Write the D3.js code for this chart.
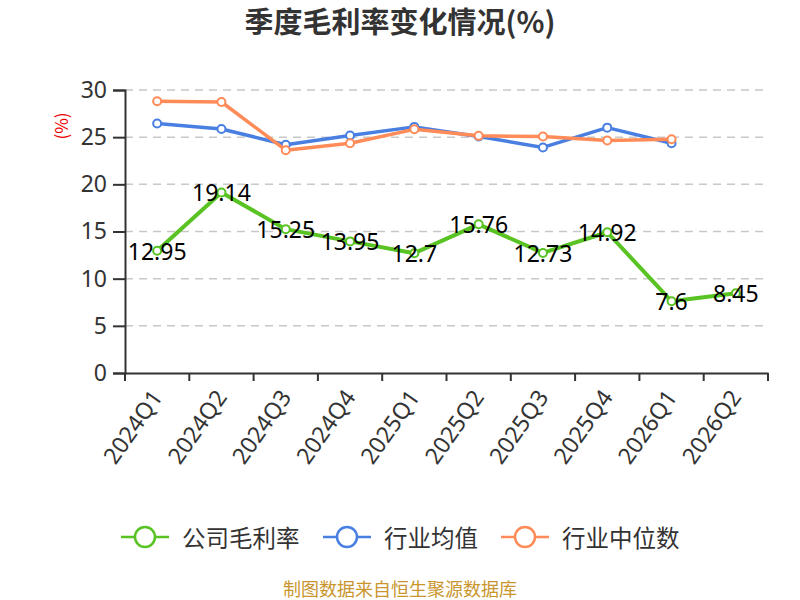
<!DOCTYPE html>
<html>
<head>
<meta charset="utf-8">
<script src="https://cdn.jsdelivr.net/npm/d3@7"></script>
<style>
  body { margin: 0; background: #fff; }
  svg { font-family: "Noto Sans CJK SC", "Noto Sans", sans-serif; }
</style>
</head>
<body>
<div id="chart"></div>
<script>
// quarters on the x axis
const quarters = ['2024Q1', '2024Q2', '2024Q3', '2024Q4', '2025Q1', '2025Q2', '2025Q3', '2025Q4', '2026Q1', '2026Q2'];
// company gross margin (%)
const companyMargin = [12.95, 19.14, 15.25, 13.95, 12.7, 15.76, 12.73, 14.92, 7.6, 8.45];
// industry average, no value for the last quarter
const industryAvg = [26.45, 25.87, 24.2, 25.18, 26.09, 25.07, 23.91, 26.01, 24.35];
// industry median
const industryMedian = [28.8, 28.73, 23.62, 24.35, 25.83, 25.14, 25.07, 24.64, 24.78];
const yTicks = [0, 5, 10, 15, 20, 25, 30];

const seriesNames = ['公司毛利率', '行业均值', '行业中位数'];
const colors = ['#58c322', '#4a7fe2', '#ff8b58'];

const width = 800, height = 600;
const margin = { left: 125, right: 32, top: 90, bottom: 227 };

const svg = d3.select('#chart').append('svg')
    .attr('width', width)
    .attr('height', height);

const x = d3.scaleBand()
    .domain(quarters)
    .range([margin.left, width - margin.right]);

const y = d3.scaleLinear()
    .domain([0, 30])
    .range([height - margin.bottom, margin.top]);

// title
svg.append('text')
    .attr('x', 400)
    .attr('y', 33)
    .attr('text-anchor', 'middle')
    .attr('font-size', 29)
    .attr('font-weight', 'bold')
    .attr('fill', '#333')
    .text('季度毛利率变化情况(%)');

// dashed grid
svg.append('g')
    .selectAll('line')
    .data(yTicks.filter(d => d > 0))
    .enter().append('line')
    .attr('x1', margin.left)
    .attr('x2', width - margin.right)
    .attr('y1', d => y(d))
    .attr('y2', d => y(d))
    .attr('stroke', '#c8c8c8')
    .attr('stroke-width', 1.5)
    .attr('stroke-dasharray', '8,6');

// y axis
const yAxis = svg.append('g')
    .attr('transform', `translate(${margin.left},0)`)
    .call(d3.axisLeft(y).tickValues(yTicks).tickSize(12).tickPadding(6));
yAxis.select('.domain').attr('stroke', '#333').attr('stroke-width', 2);
yAxis.selectAll('.tick line').attr('stroke', '#333').attr('stroke-width', 2);
yAxis.selectAll('.tick text')
    .attr('font-size', 23)
    .attr('fill', '#333')
    .attr('font-family', '"Noto Sans", sans-serif');

svg.append('text')
    .attr('transform', `translate(68,126) rotate(-90)`)
    .attr('text-anchor', 'middle')
    .attr('font-size', 17)
    .attr('fill', '#e00')
    .text('(%)');

// x axis
const xAxis = svg.append('g')
    .attr('transform', `translate(0,${y(0)})`)
    .call(d3.axisBottom(x).tickSize(0));
xAxis.select('.domain').attr('stroke', '#333').attr('stroke-width', 2);
xAxis.selectAll('.tick text')
    .attr('font-size', 23)
    .attr('fill', '#333')
    .attr('font-family', '"Noto Sans", sans-serif')
    .attr('text-anchor', 'end')
    .attr('dy', 0)
    .attr('transform', 'translate(-1,19) rotate(-55)')
    .attr('dominant-baseline', 'middle');

// tick marks at band boundaries
const bounds = quarters.map(q => x(q)).concat([x.range()[1]]);
svg.append('g')
    .selectAll('line')
    .data(bounds)
    .enter().append('line')
    .attr('x1', d => d)
    .attr('x2', d => d)
    .attr('y1', y(0))
    .attr('y2', y(0) + 8)
    .attr('stroke', '#333')
    .attr('stroke-width', 2);

const cx = i => x(quarters[i]) + x.bandwidth() / 2;
const line = d3.line()
    .x((d, i) => cx(i))
    .y(d => y(d));

const allSeries = [companyMargin, industryAvg, industryMedian];
const drawOrder = [1, 2, 0];

drawOrder.forEach(k => {
    const values = allSeries[k];
    const g = svg.append('g');
    g.append('path')
        .datum(values)
        .attr('d', line)
        .attr('fill', 'none')
        .attr('stroke', colors[k])
        .attr('stroke-width', k === 0 ? 4 : 3.5)
        .attr('stroke-linejoin', 'round');
    g.selectAll('circle')
        .data(values)
        .enter().append('circle')
        .attr('cx', (d, i) => cx(i))
        .attr('cy', d => y(d))
        .attr('r', 4)
        .attr('fill', '#fff')
        .attr('stroke', colors[k])
        .attr('stroke-width', 2);
});

// value labels for the company series
svg.append('g')
    .selectAll('text')
    .data(companyMargin)
    .enter().append('text')
    .attr('x', (d, i) => cx(i))
    .attr('y', d => y(d))
    .attr('text-anchor', 'middle')
    .attr('dominant-baseline', 'central')
    .attr('font-size', 23)
    .attr('fill', '#000')
    .attr('font-family', '"Noto Sans", sans-serif')
    .text(d => d);

// legend
const legendX = [121, 323, 501];
const legend = svg.append('g');
seriesNames.forEach((name, k) => {
    const lx = legendX[k], ly = 537;
    legend.append('line')
        .attr('x1', lx).attr('x2', lx + 48)
        .attr('y1', ly).attr('y2', ly)
        .attr('stroke', colors[k])
        .attr('stroke-width', 2.5);
    legend.append('circle')
        .attr('cx', lx + 24).attr('cy', ly)
        .attr('r', 10)
        .attr('fill', '#fff')
        .attr('stroke', colors[k])
        .attr('stroke-width', 2.5);
    legend.append('text')
        .attr('x', lx + 61)
        .attr('y', ly)
        .attr('dominant-baseline', 'central')
        .attr('font-size', 23.5)
        .attr('fill', '#333')
        .text(name);
});

// source note
svg.append('text')
    .attr('x', 400)
    .attr('y', 596)
    .attr('text-anchor', 'middle')
    .attr('font-size', 18)
    .attr('fill', '#c9962e')
    .text('制图数据来自恒生聚源数据库');
</script>
</body>
</html>
